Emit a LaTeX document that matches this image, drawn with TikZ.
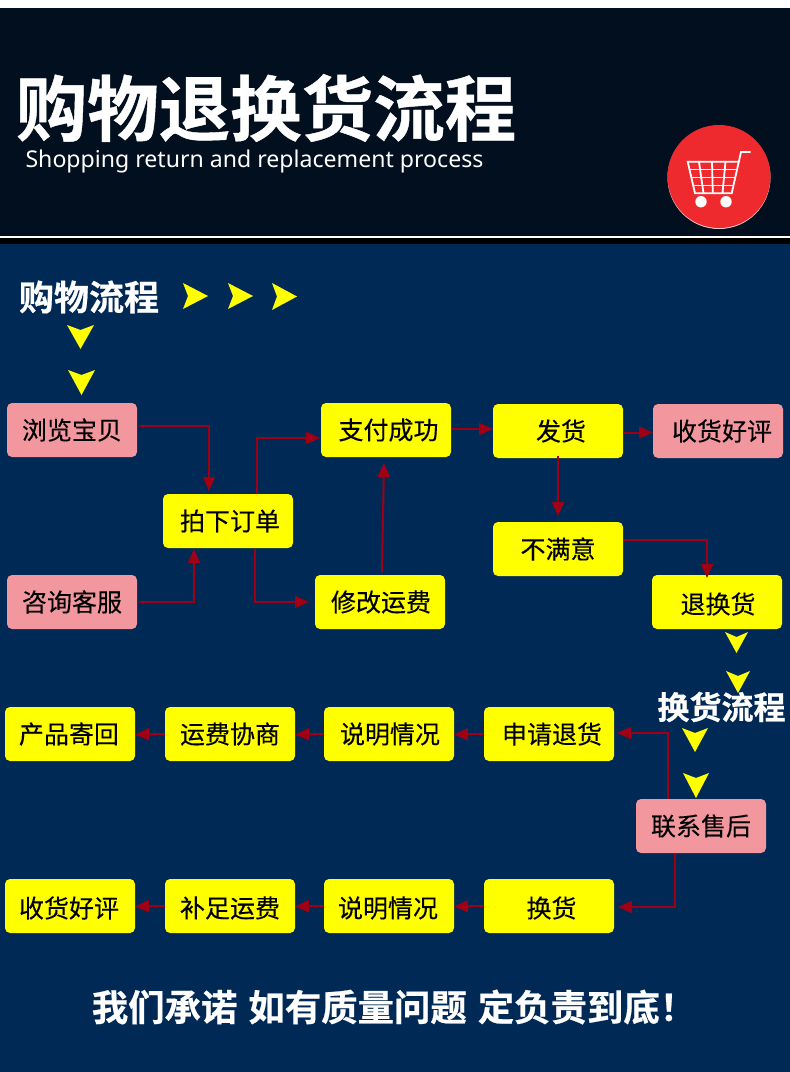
\documentclass[tikz,border=0pt]{standalone}
\usepackage{fontspec}
\setmainfont{Noto Sans}
\newfontfamily\cjk{Noto Sans CJK SC}
\newfontfamily\cjkm[FakeBold=0.25]{Noto Sans CJK SC}
\newfontfamily\cjkb[FakeBold=0.6]{Noto Sans CJK SC Bold}
\usetikzlibrary{arrows.meta,calc}
\definecolor{headbg}{HTML}{020F1F}
\definecolor{mainbg}{HTML}{002A55}
\definecolor{pinkbox}{HTML}{F2979E}
\definecolor{yelbox}{HTML}{FFFF00}
\definecolor{linkred}{HTML}{A00014}
\definecolor{cartred}{HTML}{EE2A2E}
\tikzset{
  x=1pt,y=-1pt,
  flowbox/.style={rounded corners=5pt,minimum width=130pt,minimum height=54pt,inner sep=0pt,outer sep=0pt,
    text=black,font=\cjkm\fontsize{25}{25}\selectfont},
  ybox/.style={flowbox,fill=yelbox},
  pbox/.style={flowbox,fill=pinkbox},
  link/.style={draw=linkred,line width=2pt,-{Triangle[length=14pt,width=12pt]}},
  head/.style={text=white,inner sep=0pt,outer sep=0pt},
  chev/.style={fill=yelbox,draw=none},
}
% down-pointing chevron: left x, top y, right x, bottom y
\newcommand{\chevdown}[4]{\fill[chev] (#1,#2) -- ({(#1+#3)/2},{#2+5}) -- (#3,#2) -- ({(#1+#3)/2},#4) -- cycle;}
\newcommand{\chevright}[4]{\fill[chev] (#1,#2) -- (#3,{(#2+#4)/2}) -- (#1,#4) -- ({#1+5},{(#2+#4)/2}) -- cycle;}
% sets a box text 2pt lower than the centre of its node
\newcommand{\lowtext}[1]{\raisebox{0pt}[\dimexpr\height+4pt\relax][\depth]{#1}}
\begin{document}
\begin{tikzpicture}
\useasboundingbox (0,0) rectangle (790,1072);
\fill[white] (0,0) rectangle (790,1072);
\fill[headbg] (0,8) rectangle (790,236);
\fill[black] (0,238) rectangle (790,244);
\fill[mainbg] (0,244) rectangle (790,1072);

% header
\node[head,font=\cjkb\fontsize{71.5}{72}\selectfont] (title) at (266,108) {购物退换货流程};
\node[head,font=\fontsize{23.1}{24}\selectfont] (subtitle) at (254.5,161) {Shopping return and replacement process};

% cart
\fill[white!75!cartred] (719,177.5) circle[radius=51.5pt];
\fill[cartred] (719,176.5) circle[radius=51.5pt];
\begin{scope}[draw=white,line width=1.8pt]
  \draw (750.7,152) -- (741,152) -- (731.7,193.3) -- (695,193.3) -- (687.7,161.7) -- (738.6,161.7);
  \draw (689.4,169.5) -- (736.8,169.5);
  \draw (691.2,177.5) -- (735,177.5);
  \draw (693,185.5) -- (733.2,185.5);
  \draw (699,161.7) -- (703.5,193.3);
  \draw (712,161.7) -- (712.8,193.3);
  \draw (725.5,161.7) -- (722.5,193.3);
\end{scope}
\fill[white] (701,201.7) circle[radius=5.7pt] (726,201.7) circle[radius=5.7pt];

% section headings
\node[head,font=\cjkb\fontsize{35}{35}\selectfont] (shop) at (89,297) {购物流程};
\node[head,font=\cjkb\fontsize{32}{32}\selectfont] (swap) at (721.5,707) {换货流程};
\node[head,font=\cjkb\fontsize{36.4}{36}\selectfont] (promise) at (394,1007) {我们承诺\hspace{11pt}如有质量问题\hspace{11pt}定负责到底！};

% yellow chevrons
\chevright{183}{283}{208}{309}
\chevright{228}{283}{253}{309}
\chevright{272}{283}{297}{310}
\chevdown{67}{325}{94}{349}
\chevdown{68}{370}{95}{395}
\chevdown{725}{632}{748}{653}
\chevdown{726}{671}{750}{693}
\chevdown{682}{728}{708}{752}
\chevdown{683}{773}{709}{798}

% boxes
\node[pbox] (browse) at (72,430) {浏览宝贝};
\node[pbox] (ask) at (72,602) {咨询客服};
\node[ybox] (order) at (228,521) {\hspace*{4pt}拍下订单};
\node[ybox] (paid) at (386,430) {\hspace*{5pt}支付成功};
\node[ybox] (fee) at (380,602) {\hspace*{2pt}修改运费};
\node[ybox] (ship) at (558,431) {\hspace*{6pt}发货};
\node[pbox] (good) at (718,431) {\hspace*{8pt}收货好评};
\node[ybox] (bad) at (558,549) {不满意};
\node[ybox] (ret) at (717,602) {\hspace*{2pt}\lowtext{退换货}};
\node[ybox] (apply) at (549,734) {\hspace*{6pt}申请退货};
\node[ybox] (explainA) at (389,734) {\hspace*{2pt}说明情况};
\node[ybox] (feeTalk) at (230,734) {运费协商};
\node[ybox] (back) at (70,734) {\hspace*{-2pt}产品寄回};
\node[pbox] (service) at (701,826) {联系售后};
\node[ybox] (swapbox) at (549,906) {\hspace*{5pt}\lowtext{换货}};
\node[ybox] (explainB) at (389,906) {\hspace*{-2pt}\lowtext{说明情况}};
\node[ybox] (topup) at (230,906) {\lowtext{补足运费}};
\node[ybox] (goodB) at (70,906) {\hspace*{-2pt}\lowtext{收货好评}};

% connectors
\draw[link] ([xshift=2pt,yshift=4pt]browse.east) -| ([xshift=-19pt,yshift=3pt]order.north);
\draw[link] ([xshift=2pt]ask.east) -| ([xshift=-34pt,yshift=-1pt]order.south);
\draw[link] ([xshift=29pt]order.north) |- ([xshift=-1pt,yshift=-8pt]paid.west);
\draw[link] ([xshift=26.5pt,yshift=-1pt]order.south) |- ([xshift=-6pt]fee.west);
\draw[link] ([xshift=2pt,yshift=3pt]fee.north) -- ([xshift=-2pt,yshift=-6pt]paid.south);
\draw[link] ([yshift=1pt]paid.east) -- ([yshift=2pt]ship.west);
\draw[link] ([yshift=-1.5pt]ship.east) -- ([yshift=-1.5pt]good.west);
\draw[link] ([yshift=2pt]ship.south) -- ([yshift=6pt]bad.north);
\draw[link] ([xshift=1pt,yshift=9pt]bad.east) -| ([xshift=-10pt,yshift=-3pt]ret.north);
\draw[link] ([xshift=-33pt]service.north) |- ([xshift=3pt,yshift=1pt]apply.east);
\draw[link] ([xshift=-26pt]service.south) |- ([xshift=4pt,yshift=-1pt]swapbox.east);
\draw[link] (apply.west) -- ([yshift=-0.5pt]explainA.east);
\draw[link] (explainA.west) -- ([yshift=-0.5pt]feeTalk.east);
\draw[link] (feeTalk.west) -- ([yshift=-0.5pt]back.east);
\draw[link] (swapbox.west) -- ([yshift=-0.5pt]explainB.east);
\draw[link] (explainB.west) -- ([yshift=-0.5pt]topup.east);
\draw[link] (topup.west) -- ([yshift=-0.5pt]goodB.east);
\end{tikzpicture}
\end{document}
